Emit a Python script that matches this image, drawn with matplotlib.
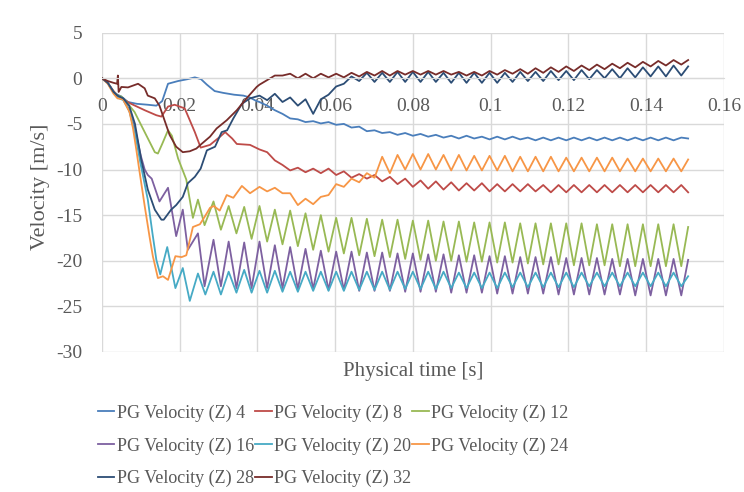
import numpy as np
import matplotlib.pyplot as plt
from matplotlib.ticker import FormatStrFormatter

# times in ms; tail part is shared (peak / trough instants of the ~250 Hz ripple)
t_tail = [40.53, 42.50, 44.48, 46.45, 48.42, 50.40, 52.37, 54.34, 56.31, 58.29,
          60.26, 62.23, 64.20, 66.18, 68.15, 70.12, 72.09, 74.07, 76.04, 78.01,
          79.98, 81.96, 83.93, 85.90, 87.87, 89.85, 91.82, 93.79, 95.76, 97.74,
          99.71, 101.68, 103.65, 105.63, 107.60, 109.57, 111.54, 113.52, 115.49, 117.46,
          119.44, 121.41, 123.38, 125.36, 127.33, 129.30, 131.27, 133.25, 135.22, 137.19,
          139.16, 141.14, 143.11, 145.08, 147.05, 149.03, 150.80]

# PG Velocity (Z) 4
t4 = [0, 1.5, 3, 4, 5, 6.7, 9, 11.8, 14, 15.5, 17, 19.6, 22, 23.9, 25.5, 27, 29, 31.2, 34, 36.4, 38, 39.8]
v4 = [0, -0.5, -1.5, -1.8, -2.0, -2.6, -2.8, -2.9, -3.0, -2.5, -0.6, -0.3, -0.1, 0.1, -0.1, -0.7, -1.4, -1.6, -1.8, -1.9, -2.1, -2.5]
v4_tail = [-2.6, -3.0, -3.5, -3.9, -4.4, -4.5, -4.8, -4.7, -4.95, -4.8,
           -5.1, -5.0, -5.4, -5.3, -5.8, -5.7, -6.0, -5.9, -6.2, -6.0,
           -6.3, -6.1, -6.4, -6.2, -6.5, -6.3, -6.6, -6.3, -6.6, -6.4,
           -6.7, -6.4, -6.7, -6.4, -6.7, -6.5, -6.8, -6.5, -6.8, -6.5,
           -6.8, -6.5, -6.8, -6.5, -6.8, -6.5, -6.8, -6.5, -6.8, -6.5,
           -6.8, -6.5, -6.8, -6.5, -6.8, -6.5, -6.6]

# PG Velocity (Z) 8
t8 = [0, 1.5, 3, 4, 5.5, 7.5, 11, 14, 15.3, 17, 18.7, 21.3, 23.9, 25.4, 27.8, 30.4, 31.7, 33.5, 34.7, 38.1]
v8 = [0, -0.5, -1.4, -1.9, -2.3, -2.8, -3.5, -4.05, -4.2, -3.1, -2.9, -3.3, -5.9, -7.6, -7.3, -6.4, -5.9, -6.6, -7.2, -7.3]
v8_tail = [-7.8, -8.1, -9.0, -9.5, -10.1, -9.8, -10.3, -9.9, -10.4, -9.9,
           -10.6, -10.2, -10.9, -10.5, -11.0, -10.6, -11.3, -10.8, -11.6, -11.0,
           -11.9, -11.2, -12.1, -11.3, -12.2, -11.4, -12.3, -11.5, -12.3, -11.5,
           -12.4, -11.6, -12.4, -11.6, -12.4, -11.6, -12.4, -11.7, -12.5, -11.7,
           -12.5, -11.7, -12.5, -11.7, -12.5, -11.7, -12.5, -11.7, -12.5, -11.7,
           -12.5, -11.7, -12.5, -11.7, -12.5, -11.7, -12.5]

# PG Velocity (Z) 12
t12 = [0, 1.5, 3, 4, 5, 6.3, 8.4, 11, 13.6, 14.4, 15.5, 17, 18, 19.6, 21.7, 23.4, 24.7, 26.4, 28.7, 30.6, 32.6, 34.6, 36.6, 38.5]
v12 = [0, -0.5, -1.5, -1.9, -2.0, -2.6, -3.7, -5.9, -8.1, -8.25, -7.2, -5.7, -6.3, -8.8, -11.1, -15.3, -13.3, -16.1, -13.5, -16.6, -14.0, -17.0, -14.1, -17.6]
v12_tail = [-14.0, -17.9, -14.4, -18.2, -14.5, -18.4, -14.8, -18.8, -15.0, -19.0,
            -15.3, -19.2, -15.3, -19.4, -15.4, -19.5, -15.5, -19.6, -15.5, -19.8,
            -15.6, -19.9, -15.6, -20.0, -15.7, -20.0, -15.7, -20.1, -15.8, -20.1,
            -15.8, -20.2, -15.8, -20.2, -15.9, -20.3, -15.9, -20.4, -15.9, -20.4,
            -15.9, -20.5, -15.9, -20.5, -16.0, -20.5, -16.0, -20.6, -16.0, -20.6,
            -16.0, -20.6, -16.0, -20.6, -16.0, -20.6, -16.3]

# PG Velocity (Z) 16
t16 = [0, 1.5, 3, 4, 5.5, 7, 8.5, 10, 11, 11.8, 12.8, 14.8, 17.0, 19.1, 20.8, 22.1, 24.7, 26.4, 28.7, 30.6, 32.6, 34.6, 36.6, 38.5]
v16 = [0, -0.5, -1.5, -2.0, -2.3, -3.5, -5.5, -8.5, -10.0, -10.6, -11.0, -13.5, -12.0, -17.3, -14.4, -18.8, -17.0, -22.8, -17.7, -22.8, -17.9, -23.0, -18.0, -23.0]
v16_tail = [-17.9, -23.0, -18.3, -23.0, -18.5, -23.1, -18.7, -23.1, -18.9, -23.2,
            -19.0, -23.2, -19.0, -23.3, -19.1, -23.3, -19.1, -23.3, -19.2, -23.4,
            -19.2, -23.4, -19.3, -23.4, -19.3, -23.5, -19.4, -23.5, -19.4, -23.5,
            -19.5, -23.6, -19.5, -23.6, -19.6, -23.6, -19.6, -23.6, -19.6, -23.7,
            -19.7, -23.7, -19.7, -23.7, -19.7, -23.7, -19.8, -23.7, -19.8, -23.8,
            -19.8, -23.8, -19.8, -23.8, -19.8, -23.8, -19.9]

# PG Velocity (Z) 20
t20 = [0, 1.5, 3, 4, 5.5, 7, 8.5, 10, 11.8, 13, 14, 15.0, 16.8, 18.9, 20.8, 22.6, 24.7, 26.6, 28.7, 30.6, 32.6, 34.6, 36.6, 38.5]
v20 = [0, -0.5, -1.6, -2.1, -2.4, -3.5, -6.0, -9.5, -13.3, -17.0, -19.9, -21.5, -18.5, -23.0, -20.8, -24.4, -21.4, -23.7, -21.2, -23.7, -21.2, -23.5, -21.0, -23.5]
v20_tail = [-21.1, -23.5, -21.1, -23.4, -21.2, -23.4, -21.2, -23.3, -21.2, -23.3,
            -21.2, -23.3, -21.2, -23.2, -21.2, -23.2, -21.2, -23.2, -21.2, -23.1,
            -21.2, -23.1, -21.2, -23.1, -21.2, -23.0, -21.3, -23.0, -21.3, -23.0,
            -21.3, -23.0, -21.3, -22.9, -21.3, -22.9, -21.3, -22.9, -21.3, -22.9,
            -21.3, -22.9, -21.3, -22.8, -21.3, -22.8, -21.3, -22.8, -21.3, -22.8,
            -21.3, -22.8, -21.3, -22.8, -21.3, -22.8, -21.7]

# PG Velocity (Z) 24
t24 = [0, 1.5, 3, 4, 5.4, 7.1, 8.0, 8.8, 9.7, 11, 12.3, 13.1, 14.4, 15.7, 17, 18.9, 20.5, 21.7, 23.4, 25.2, 26.4, 27.8, 28.8, 30.3, 32.1, 33.8, 36, 38.1]
v24 = [0, -0.6, -1.7, -2.2, -2.3, -3.7, -5.5, -7.7, -10.3, -14.0, -17.5, -19.5, -21.9, -21.7, -22.1, -19.5, -19.6, -19.4, -16.3, -16.0, -15.2, -14.2, -14.0, -14.5, -12.8, -13.1, -11.8, -12.6]
v24_tail = [-11.9, -12.4, -12.0, -12.6, -12.6, -13.9, -13.2, -13.8, -13.0, -12.8,
            -11.6, -11.9, -11.0, -11.4, -10.4, -10.9, -8.6, -10.4, -8.4, -10.0,
            -8.3, -10.0, -8.3, -10.0, -8.4, -10.1, -8.4, -10.1, -8.5, -10.1,
            -8.5, -10.1, -8.5, -10.2, -8.6, -10.2, -8.6, -10.2, -8.6, -10.2,
            -8.7, -10.2, -8.7, -10.2, -8.7, -10.2, -8.7, -10.2, -8.8, -10.2,
            -8.8, -10.2, -8.8, -10.2, -8.8, -10.2, -8.9]

# PG Velocity (Z) 28
t28 = [0, 1.5, 3, 4, 5.5, 7, 8.5, 10.1, 11.8, 13.6, 15.3, 15.9, 17.8, 19.1, 20.8, 22.1, 23.9, 25.4, 27, 29.1, 30.8, 32.2, 33.8, 36, 38.1]
v28 = [0, -0.5, -1.5, -1.9, -2.2, -3.0, -5.0, -8.9, -12.2, -14.4, -15.5, -15.5, -14.4, -13.9, -13.0, -11.5, -10.8, -9.9, -7.9, -7.5, -5.9, -5.7, -4.4, -2.8, -2.2]
v28_tail = [-1.9, -2.4, -1.7, -2.6, -2.1, -3.0, -2.3, -3.9, -2.3, -1.8,
            -0.9, -0.6, 0.2, -0.3, 0.6, -0.4, 0.6, -0.4, 0.7, -0.4,
            0.7, -0.4, 0.7, -0.4, 0.6, -0.5, 0.6, -0.5, 0.6, -0.5,
            0.6, -0.5, 0.6, -0.4, 0.7, -0.3, 0.7, -0.3, 0.8, -0.2,
            0.8, -0.2, 0.9, -0.1, 0.9, 0.0, 1.0, 0.0, 1.1, 0.1,
            1.2, 0.2, 1.3, 0.2, 1.4, 0.3, 1.3]

# PG Velocity (Z) 32
t32 = [0, 1.5, 3, 3.9, 4.1, 4.3, 5, 6.7, 8, 9.3, 11, 11.8, 13.6, 14.8, 16.1, 17.4, 19.1, 20.8, 22.6, 24.3, 25.6, 27.8, 29.5, 32.1, 34.7, 37.2, 39.8]
v32 = [0, -0.3, -0.5, -0.6, 0.3, -1.5, -0.95, -1.0, -0.8, -0.6, -1.1, -1.9, -2.2, -3.0, -4.6, -6.2, -7.5, -8.1, -8.0, -7.7, -7.2, -6.4, -5.5, -4.6, -3.5, -2.2, -0.95]
v32_tail = [-0.7, -0.2, 0.3, 0.3, 0.5, 0.0, 0.5, 0.0, 0.5, 0.1,
            0.5, 0.1, 0.6, 0.2, 0.7, 0.3, 0.8, 0.3, 0.8, 0.4,
            0.8, 0.4, 0.8, 0.4, 0.8, 0.4, 0.7, 0.3, 0.7, 0.3,
            0.8, 0.4, 0.9, 0.5, 1.0, 0.5, 1.1, 0.6, 1.2, 0.7,
            1.3, 0.8, 1.4, 0.9, 1.5, 1.0, 1.6, 1.1, 1.7, 1.2,
            1.8, 1.3, 1.9, 1.4, 2.0, 1.5, 2.0]

labels = ['PG Velocity (Z) 4', 'PG Velocity (Z) 8', 'PG Velocity (Z) 12', 'PG Velocity (Z) 16',
          'PG Velocity (Z) 20', 'PG Velocity (Z) 24', 'PG Velocity (Z) 28', 'PG Velocity (Z) 32']
colors = ['#4A7EBB', '#BE4B48', '#98B954', '#7D60A0', '#46AAC5', '#F79646', '#2C4D75', '#772C2A']

series = [(t4, v4, v4_tail), (t8, v8, v8_tail), (t12, v12, v12_tail), (t16, v16, v16_tail),
          (t20, v20, v20_tail), (t24, v24, v24_tail), (t28, v28, v28_tail), (t32, v32, v32_tail)]

grey = '#595959'
plt.rcParams['font.family'] = ['Liberation Serif', 'DejaVu Serif']
plt.rcParams['axes.unicode_minus'] = False

fig = plt.figure(figsize=(7.44, 4.92), dpi=100)
ax = fig.add_axes([0.137, 0.2846, 0.836, 0.649])

handles = []
for (t, v, vt), lab, c in zip(series, labels, colors):
    tt = np.array(t + t_tail) / 1000.0
    vv = np.array(v + vt)
    h, = ax.plot(tt, vv, color=c, lw=1.3, label=lab, solid_joinstyle='round')
    handles.append(h)

ax.set_xlim(0, 0.16)
ax.set_ylim(-30, 5)
ax.set_xticks(np.arange(0, 0.161, 0.02))
ax.set_yticks(np.arange(-30, 6, 5))
ax.xaxis.set_major_formatter(FormatStrFormatter('%g'))
ax.grid(True, color='#d9d9d9', lw=1)
ax.set_axisbelow(True)
for s in ['top', 'right', 'left']:
    ax.spines[s].set_visible(False)
ax.spines['bottom'].set_position(('data', 0))
ax.spines['bottom'].set_color('#d9d9d9')
ax.tick_params(axis='both', length=0, labelsize=14, labelcolor=grey)
ax.tick_params(axis='x', pad=14)
ax.tick_params(axis='y', pad=14)

fig.text(0.555, 0.245, 'Physical time [s]', ha='center', va='center', fontsize=15, color=grey)
fig.text(0.054, 0.62, 'Velocity [m/s]', ha='center', va='center', fontsize=16, color=grey, rotation=90)

order = [0, 3, 6, 1, 4, 7, 2, 5]
leg = fig.legend([handles[i] for i in order], [labels[i] for i in order], ncol=3,
                 loc='upper left', bbox_to_anchor=(0.132, 0.178), frameon=False,
                 fontsize=13, handlelength=0.9, handletextpad=0.15, columnspacing=0.05,
                 labelspacing=0.86, borderpad=0, borderaxespad=0)
for txt in leg.get_texts():
    txt.set_color(grey)

fig.savefig('out.png', dpi=100)
